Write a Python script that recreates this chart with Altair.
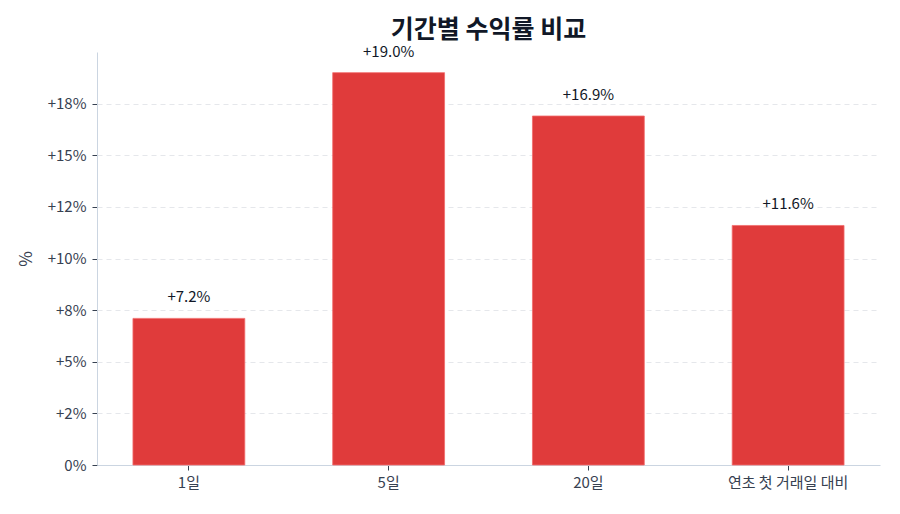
import altair as alt
import pandas as pd

# 기간별 수익률 (%)
periods = ['1일', '5일', '20일', '연초 첫 거래일 대비']
returns = [7.1, 19.0, 16.9, 11.6]
value_labels = ['+7.2%', '+19.0%', '+16.9%', '+11.6%']
tick_values = [0, 2.5, 5, 7.5, 10, 12.5, 15, 17.5]
tick_labels = ['0%', '+2%', '+5%', '+8%', '+10%', '+12%', '+15%', '+18%']

FONT = 'Noto Sans CJK KR'
BAR = '#e03b3b'

df = pd.DataFrame({'period': periods, 'ret': returns, 'label': value_labels})

label_expr = '[' + ','.join(f"'{t}'" for t in tick_labels) + '][round(datum.value / 2.5)]'

base = alt.Chart(df).encode(
    x=alt.X('period:N', sort=periods,
            scale=alt.Scale(paddingInner=0.44, paddingOuter=0.18),
            axis=alt.Axis(title=None, labelAngle=0, labelFontSize=15, labelColor='#374151',
                          labelPadding=5, domainColor='#cbd5e1', tickColor='#374151',
                          tickSize=5, grid=False)),
    y=alt.Y('ret:Q',
            scale=alt.Scale(domain=[0, 20], nice=False),
            axis=alt.Axis(title='%', values=tick_values, labelExpr=label_expr,
                          labelFontSize=15, labelColor='#374151', titleFontSize=17,
                          titleColor='#374151', titleFontWeight='normal', titlePadding=12,
                          domainColor='#cbd5e1', tickColor='#374151', tickSize=5,
                          gridColor='#e5e7eb', gridDash=[5, 4], labelPadding=6))
)

bars = base.mark_bar(color=BAR, stroke='#f26d6d', strokeWidth=0.8)

text = base.mark_text(baseline='middle', dy=-21, fontSize=15, color='#111827', font=FONT).encode(
    text='label:N'
)

chart = (bars + text).properties(
    width=783, height=413,
    title=alt.TitleParams('기간별 수익률 비교', fontSize=25, fontWeight='bold', color='#111827',
                          font=FONT, anchor='middle', offset=2),
    padding={'left': 9, 'top': 9, 'right': 12, 'bottom': 5}
).configure(font=FONT).configure_view(strokeWidth=0)

chart.save('out.html', embed_options={'renderer': 'svg', 'actions': False})
